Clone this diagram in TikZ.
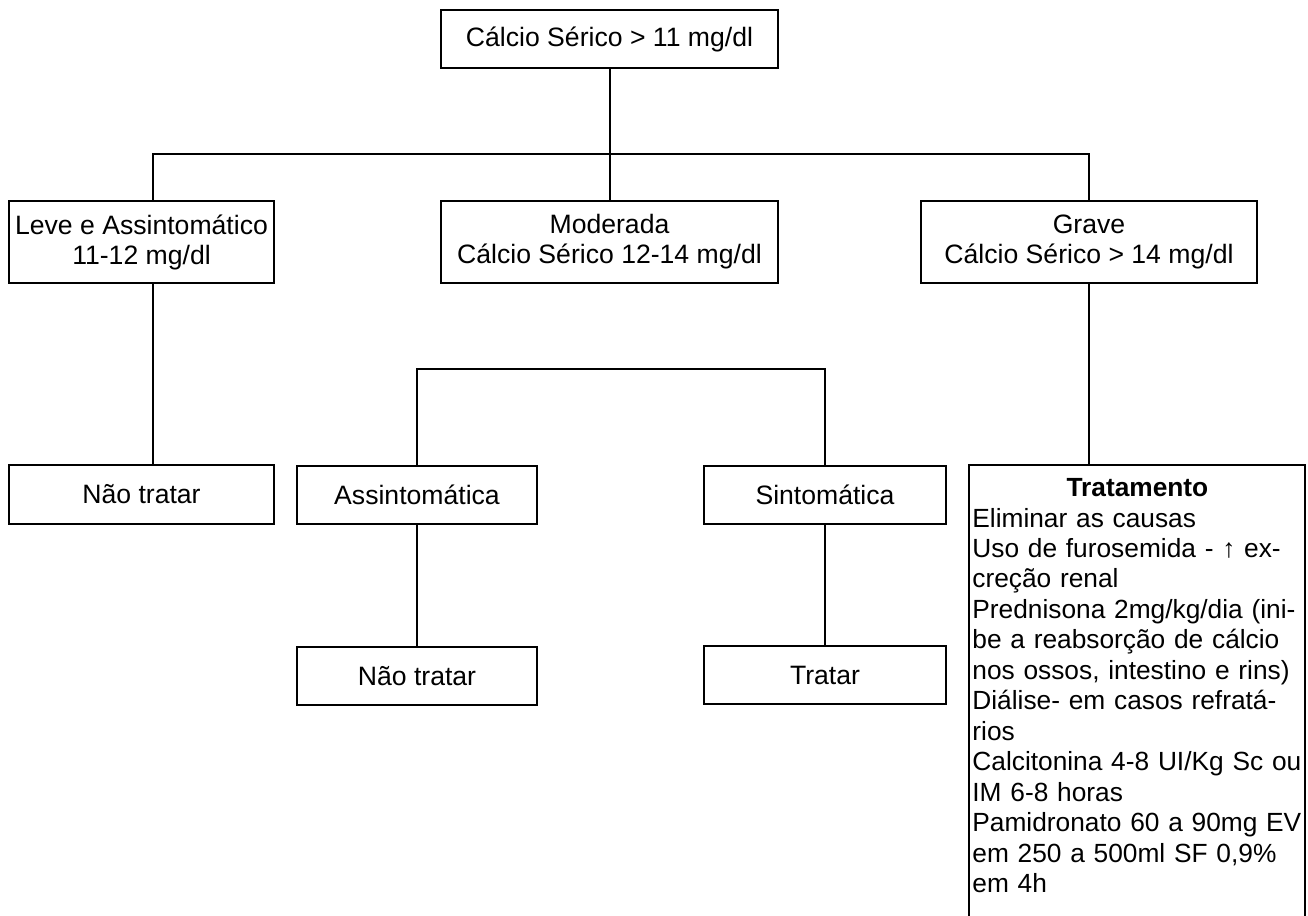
\documentclass[tikz,border=0pt]{standalone}
\usepackage{fontspec}
\setmainfont{Liberation Sans}
\begin{document}
\begin{tikzpicture}[x=0.5pt,y=-0.5pt,
  box/.style={draw, line width=1pt, rectangle, inner sep=0pt, align=center,
    font=\fontsize{13.3}{15}\selectfont},
  wire/.style={line width=1pt},
  txt/.style={inner sep=0pt, align=left, text width=180pt,
    font=\fontsize{13.15}{15.25}\selectfont}]
\useasboundingbox[fill=white] (0,0) rectangle (1308,916);

\node[box, minimum width=168.5pt, minimum height=29pt] (top) at (609.5,39) {Cálcio Sérico > 11 mg/dl};
\node[box, minimum width=132.5pt, minimum height=41pt] (leve) at (141.5,242) {Leve e Assintomático\\11-12 mg/dl};
\node[box, minimum width=168.5pt, minimum height=41pt] (mod) at (609.5,242) {Moderada\\Cálcio Sérico 12-14 mg/dl};
\node[box, minimum width=168pt, minimum height=41pt] (grave) at (1089,242) {Grave\\Cálcio Sérico > 14 mg/dl};
\node[box, minimum width=132.5pt, minimum height=29.5pt] (nt1) at (141.5,494.5) {Não tratar};
\node[box, minimum width=120pt, minimum height=29pt] (assint) at (417,494.5) {Assintomática};
\node[box, minimum width=121pt, minimum height=29pt] (sint) at (825,494.5) {Sintomática};
\node[box, minimum width=120pt, minimum height=29pt] (nt2) at (417,676) {Não tratar};
\node[box, minimum width=121pt, minimum height=29pt] (tratar) at (825,675) {Tratar};

% Tratamento box (open at the bottom, it runs past the page)
\node[minimum width=168pt, minimum height=226.5pt, inner sep=0pt] (trat) at (1137,691.5) {};
\draw[wire] (trat.south west) -- (trat.north west) -- (trat.north east) -- (trat.south east);
\node[txt, anchor=north west] (tratxt) at (972,478) {%
\makebox[165pt][c]{\bfseries Tratamento}\\
Eliminar as causas\\
Uso de furosemida - ↑ ex-\\
creção renal\\
Prednisona 2mg/kg/dia (ini-\\
be a reabsorção de cálcio\\
nos ossos, intestino e rins)\\
Diálise- em casos refratá-\\
rios\\
Calcitonina 4-8 UI/Kg Sc ou\\
IM 6-8 horas\\
Pamidronato 60 a 90mg EV\\
em 250 a 500ml SF 0,9\%\\
em 4h};

% connectors
\coordinate (lx) at (153,0);
\coordinate (j1) at (609.5,154);
\coordinate (j2) at (609.5,369);
\draw[wire] (top.south) -- (mod.north);
\draw[wire] (lx |- leve.north) -- (lx |- j1) -- (j1 -| grave.north) -- (grave.north);
\draw[wire] (lx |- leve.south) -- (lx |- nt1.north);
\draw[wire] (assint.north) |- (j2) -| (sint.north);
\draw[wire] (assint.south) -- (nt2.north);
\draw[wire] (sint.south) -- (tratar.north);
\draw[wire] (grave.south) -- (grave.south |- trat.north);
\end{tikzpicture}
\end{document}
